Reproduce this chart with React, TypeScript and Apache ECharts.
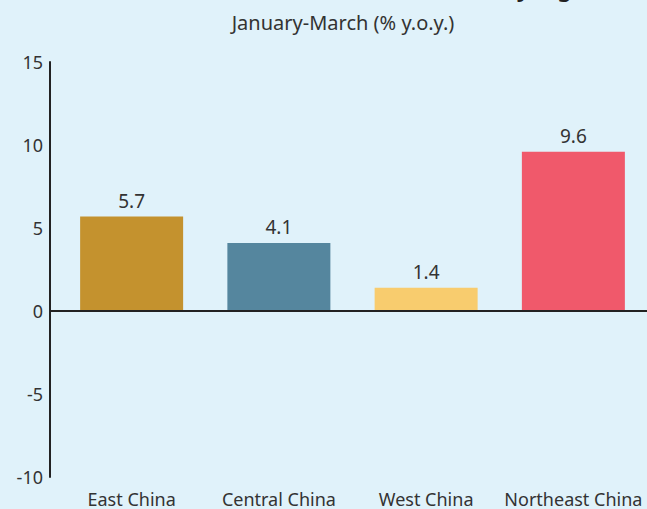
import React, { useEffect, useRef } from "react";
import * as echarts from "echarts";

const categories = ["East China", "Central China", "West China", "Northeast China"];
const values = [5.7, 4.1, 1.4, 9.6];
const barColors = ["#c4922e", "#55869e", "#f8cc6e", "#f0596b"];
const yTicks = { min: -10, max: 15, interval: 5 };
const subtitle = "January-March (% y.o.y.)";
const title = "Fixed asset investment by region";

export default function App() {
  const ref = useRef<HTMLDivElement>(null);
  useEffect(() => {
    if (!ref.current) return;
    const chart = echarts.init(ref.current, null, { renderer: "svg" });
    const font = "'Noto Sans', sans-serif";
    chart.setOption({
      animation: false,
      backgroundColor: "#e0f2fa",
      graphic: [
        {
          type: "text",
          x: 606,
          y: -1,
          style: {
            text: title,
            textAlign: "right",
            textVerticalAlign: "bottom",
            font: "bold 22px 'Noto Sans', sans-serif",
            fill: "#222",
          },
        },
        {
          type: "text",
          x: 343,
          y: 22,
          style: {
            text: subtitle,
            textAlign: "center",
            textVerticalAlign: "middle",
            font: "20px 'Noto Sans', sans-serif",
            fill: "#333",
          },
        },
      ],
      grid: { left: 58, top: 62, bottom: 32, width: 601 },
      xAxis: {
        type: "category",
        data: categories,
        axisLine: { show: false, onZero: false },
        axisTick: { show: false },
        axisLabel: { color: "#333", fontSize: 18, fontFamily: font, margin: 13, interval: 0 },
      },
      yAxis: {
        type: "value",
        min: yTicks.min,
        max: yTicks.max,
        interval: yTicks.interval,
        offset: 8,
        axisLine: { show: true, lineStyle: { color: "#222", width: 2 } },
        axisTick: { show: false },
        splitLine: { show: false },
        axisLabel: { color: "#333", fontSize: 18, fontFamily: font, margin: 7 },
      },
      series: [
        {
          type: "bar",
          barWidth: 103,
          data: values.map((v, i) => ({
            value: v,
            itemStyle: { color: barColors[i] },
          })),
          label: {
            show: true,
            position: "top",
            distance: 6,
            color: "#333",
            fontSize: 19,
            fontFamily: font,
          },
          markLine: {
            silent: true,
            symbol: "none",
            label: { show: false },
            lineStyle: { color: "#222", width: 2, type: "solid" },
            data: [[{ x: 50, yAxis: 0 }, { x: 647, yAxis: 0 }]],
          },
        },
      ],
    });
    return () => chart.dispose();
  }, []);
  return <div ref={ref} style={{ width: 647, height: 509, position: "absolute", left: 0, top: 0 }} />;
}
